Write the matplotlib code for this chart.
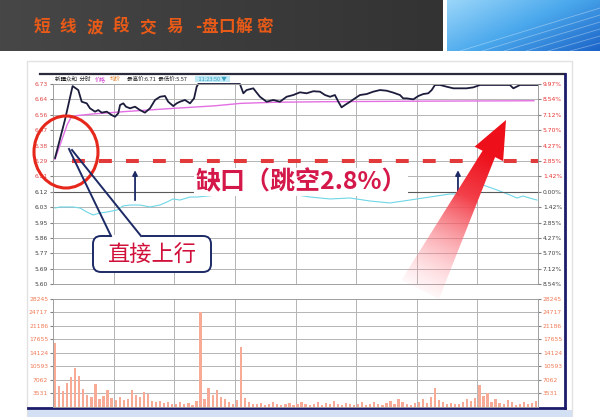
import numpy as np
import matplotlib
matplotlib.use('Agg')
import matplotlib.pyplot as plt
from matplotlib.patches import Ellipse, FancyBboxPatch, Polygon, Rectangle
from matplotlib.colors import LinearSegmentedColormap

plt.rcParams['font.family'] = ['Noto Sans CJK SC', 'DejaVu Sans']

# ---- 数据 ----
title = '短线波段交易-盘口解密'
gap_label = '缺口（跳空2.8%）'
callout_label = '直接上行'
gap_pct = 2.8

pct_ticks = [9.97, 8.54, 7.12, 5.70, 4.27, 2.85, 1.42, 0.00,
             -1.42, -2.85, -4.27, -5.70, -7.12, -8.54]
price_labels = ['6.73', '6.64', '6.56', '6.47', '6.38', '6.29', '6.21', '6.12',
                '6.03', '5.95', '5.86', '5.77', '5.69', '5.60']
pct_labels = ['9.97%', '8.54%', '7.12%', '5.70%', '4.27%', '2.85%', '1.42%', '0.00%',
              '1.42%', '2.85%', '4.27%', '5.70%', '7.12%', '8.54%']
vol_ticks = [3531, 7062, 10593, 14124, 17655, 21186, 24717, 28245]

# 次日分时（涨幅%）
time_today = [1, 5.9, 9.7, 12.5, 14.2, 16.7, 18.3, 20.8, 22.4, 24.1, 26.6, 29.0, 30.7, 32.3,
              33.2, 34.8, 36.1, 38.1, 40.6, 43.0, 45.5, 48.0, 50.5, 53.0, 55.4, 57.0, 59.5,
              61.2, 62.8, 65.3, 67.8, 69.8, 71.1, 71.9, 92.5, 94.2, 95.8, 99.1, 102.4, 105.7,
              109.0, 112.3, 115.6, 118.9, 122.2, 125.5, 128.8, 132.1, 134.6, 137.1, 139.5,
              141.2, 142.8, 144.5, 147.0, 149.4, 151.9, 155.2, 158.5, 161.8, 165.1, 168.4,
              171.7, 173.3, 175.0, 178.3, 180.8, 183.2, 185.7, 187.4, 189.0, 191.5, 194.8,
              198.1, 201.4, 204.7, 208.0, 211.3, 226.1, 227.8, 229.4, 231.1, 240]
price_today = [3.12, 6.64, 9.78, 9.41, 8.33, 8.18, 7.72, 7.41, 7.56, 7.32, 7.41, 7.10, 6.94, 7.26,
               8.03, 8.18, 7.87, 7.72, 7.87, 7.56, 7.32, 7.72, 8.49, 8.79, 8.86, 8.33, 7.93,
               8.18, 8.33, 8.49, 8.18, 8.64, 9.72, 9.97, 9.97, 9.11, 9.41, 9.57, 8.79, 8.33,
               8.49, 8.33, 8.79, 8.95, 9.20, 9.11, 9.30, 9.26, 8.95, 8.79, 8.95,
               8.33, 7.81, 8.03, 8.33, 8.64, 8.95, 9.04, 9.26, 9.41, 9.35, 9.17,
               8.95, 8.64, 8.64, 8.55, 8.86, 9.04, 9.11, 9.41, 9.88, 9.88, 9.72,
               9.57, 9.57, 9.57, 9.66, 9.88, 9.88, 9.57, 9.72, 9.88, 9.88]
avg_time = [1, 4, 7, 9, 12, 20, 35, 60, 80, 93, 110, 134, 180, 238]
avg_today = [3.0, 4.6, 6.2, 6.9, 7.05, 7.2, 7.41, 7.72, 7.95, 8.18, 8.28, 8.33, 8.38, 8.42]

# 前一日分时（涨幅%）
time_prev = [1, 3.5, 6.9, 9.9, 13.4, 16.8, 19.8, 23.3, 26.7, 31.7, 34.6, 38.1, 43.0, 48.0,
             52.9, 56.4, 59.4, 62.8, 67.8, 71.3, 76.2, 81.1, 91.0, 100.9, 110.8, 120.7,
             127.2, 137.1, 147.0, 156.9, 166.7, 176.6, 186.5, 196.4, 201.4, 207.8, 212.8,
             219.7, 226.1, 229.6, 232.6, 237.5, 239.5]
price_prev = [-1.51, -1.41, -1.41, -1.41, -1.51, -1.88, -2.15, -1.97, -1.88, -1.69, -1.32,
              -1.23, -1.23, -1.41, -1.23, -0.95, -0.67, -0.77, -0.49, -0.49, -0.40, -0.30,
              -0.12, -0.03, -0.12, -0.30, -0.49, -0.67, -0.58, -0.86, -1.04, -0.77, -0.49,
              -0.21, -0.21, 0.34, 0.62, 0.16, -0.30, -0.58, -0.40, -0.67, -0.77]

# 成交量（每2分钟）
volume = [16700, 5600, 4300, 6200, 7800, 10200, 8200, 4600, 3100, 2600,
          6000, 2100, 2900, 4500, 2300, 1800, 2500, 1900, 2200, 4400,
          3200, 2600, 3900, 3500, 1600, 1300, 1500, 1100, 1400, 900,
          800, 1200, 700, 1000, 600, 1500, 24800, 2100, 5000, 3100,
          4500, 2600, 2000, 1200, 900, 1800, 15700, 2400, 1300, 800,
          700, 1100, 600, 900, 1300, 700, 500, 800, 1000, 600,
          900, 1400, 700, 500, 800, 1200, 600, 1000, 700, 1600,
          900, 600, 1100, 800, 500, 700, 1300, 600, 900, 1200,
          700, 500, 1000, 1500, 800, 2200, 1200, 900, 600, 1100,
          1400, 2000, 1000, 2600, 5000, 1900, 1200, 800, 1000, 700,
          900, 1300, 2000, 1600, 2400, 5700, 3000, 3700, 1400, 2100,
          1000, 700, 1800, 1200, 600, 900, 1300, 700, 1100, 1500]

W, H = 600, 417
fig = plt.figure(figsize=(W / 100, H / 100), dpi=100)
fig.patch.set_facecolor('white')


def px_axes(x0, y0, x1, y1, z):
    return fig.add_axes([x0 / W, 1 - y1 / H, (x1 - x0) / W, (y1 - y0) / H], zorder=z)


# ---- 背景层 ----
bg = px_axes(0, 0, W, H, 0)
grad = np.linspace(0, 1, 200)[None, :]
bg.imshow(grad, extent=(0, 443, 51, 0), aspect='auto',
          cmap=LinearSegmentedColormap.from_list('slab', ['#474747', '#3c3c3c', '#333333']))
xx, yy = np.meshgrid(np.linspace(0, 1, 80), np.linspace(0, 1, 30))
bg.imshow(0.6 * xx + 0.4 * yy, extent=(447, 600, 51, 0), aspect='auto',
          cmap=LinearSegmentedColormap.from_list('sky', ['#9ad6fa', '#4aa8ec', '#1c64c8']))
for k in range(6):
    bg.plot([460 + k * 22, 600], [51, 8 + k * 7], color='white', lw=0.6, alpha=0.35)
bg.add_patch(Rectangle((27, 61), 545, 355, fill=False, edgecolor='#e2e2e2', lw=1))
bg.add_patch(Rectangle((28, 410), 544, 7, facecolor='#d3e0f4', edgecolor='none'))
bg.plot([40, 565], [74, 74], color='#2a2a3a', lw=1.6)
bg.plot([565, 565], [74, 408], color='#1c1c6a', lw=2)
bg.plot([28, 565], [408, 408], color='#1c1c6a', lw=2)
bg.set_xlim(0, W)
bg.set_ylim(H, 0)
bg.axis('off')

# 标题（前六字疏排）
for ch, x in zip(title, [42, 68, 95, 121, 148, 175, 198, 210, 227, 244, 265]):
    bg.text(x, 27, ch, color='#e85a18', fontsize=12, fontweight='bold',
            ha='center', va='center')

# ---- 价格区 ----
ax = px_axes(53, 84, 538, 284, 1)
ax.plot(time_prev, price_prev, color='#6fd6e6', lw=0.8)
ax.plot(avg_time, avg_today, color='#e36fe3', lw=1.0)
ax.plot(time_today, price_today, color='#1c1c3c', lw=1.3, clip_on=False)
ax.axhline(gap_pct, xmin=0.04, xmax=1, color='#e23a3a', lw=2.9, dashes=(3.2, 3.5), zorder=4)
ax.set_xlim(0, 240)
ax.set_ylim(pct_ticks[-1], pct_ticks[0])
ax.set_xticks(range(0, 241, 30))
ax.set_yticks(pct_ticks)
ax.grid(True, color='#b4b4b4', lw=0.7)
ax.set_axisbelow(True)
ax.set_xticklabels([])
ax.set_yticklabels(price_labels, fontsize=4.3, family='DejaVu Sans')
ax.tick_params(axis='y', length=2, pad=1.5, colors='#808080')
ax.tick_params(axis='x', length=0)
for lab, v in zip(ax.get_yticklabels(), pct_ticks):
    lab.set_color('#e04848' if v > 0 else '#404040')
ax.axhline(0, color='#5a5a5a', lw=0.8)
for s in ax.spines.values():
    s.set_color('#a0a0a0')
    s.set_linewidth(0.7)
ax2 = ax.twinx()
ax2.set_ylim(ax.get_ylim())
ax2.set_yticks(pct_ticks)
ax2.set_yticklabels(pct_labels, fontsize=4.3, family='DejaVu Sans')
ax2.tick_params(axis='y', length=2, pad=1.5, colors='#808080')
for lab, v in zip(ax2.get_yticklabels(), pct_ticks):
    lab.set_color('#e83030' if v > 0 else '#404040')
for s in ax2.spines.values():
    s.set_visible(False)

# 上涨箭头
for t0, y0 in [(40.6, -1.04), (200.4, -0.58)]:
    ax.annotate('', xy=(t0, gap_pct - 0.55), xytext=(t0, y0),
                arrowprops=dict(arrowstyle='-|>', color='#1c2a66', lw=1.3, mutation_scale=7))

# ---- 成交量区 ----
axv = px_axes(53, 299, 538, 407, 1)
bar_t = np.arange(len(volume)) * 2 + 1
axv.bar(bar_t, volume, width=1.1, color='#f7aa96', edgecolor='none')
axv.set_xlim(0, 240)
axv.set_ylim(0, vol_ticks[-1])
axv.set_xticks(range(0, 241, 30))
axv.set_yticks(vol_ticks)
axv.set_xticklabels([])
axv.grid(True, color='#b4b4b4', lw=0.7)
axv.set_axisbelow(True)
axv.tick_params(axis='x', length=0)
axv.tick_params(axis='y', length=2, pad=1.5, colors='#808080', labelsize=4.3,
                labelcolor='#f07a55', labelright=True, right=True)
for lab in axv.get_yticklabels():
    lab.set_family('DejaVu Sans')
for s in axv.spines.values():
    s.set_color('#a0a0a0')
    s.set_linewidth(0.7)

# ---- 前景标注层 ----
fg = px_axes(0, 0, W, H, 5)
fg.set_xlim(0, W)
fg.set_ylim(H, 0)
fg.axis('off')

# 顶部信息栏
fg.text(55, 79, '新疆众和  分时', fontsize=4, color='#202020', va='center')
fg.text(95, 79, '价格', fontsize=4, color='#d040d0', va='center')
fg.text(110, 79, '均价', fontsize=4, color='#e07a20', va='center')
fg.text(127, 79, '最高价:6.71  最低价:5.57', fontsize=4, color='#202020', va='center')
fg.text(196, 79, '  11:23:50 ▼  ', fontsize=4, color='#3aa0c0', va='center',
        bbox=dict(boxstyle='square,pad=0.15', facecolor='#bfeaf6', edgecolor='none'))

# 缺口文字
fg.text(301, 182, gap_label, fontsize=18, fontweight='bold', color='#d4184a',
        ha='center', va='center',
        bbox=dict(boxstyle='square,pad=0.05', facecolor='white', edgecolor='none'))

# 红圈
fg.add_patch(Ellipse((66, 152), 64, 72, fill=False, edgecolor='#e6281c', lw=2.2))

# 标注框
navy = '#1c2a66'
fg.add_patch(FancyBboxPatch((93, 236), 118, 36, boxstyle='round,pad=0,rounding_size=8',
                            facecolor='white', edgecolor=navy, lw=1.4))
fg.plot([111, 141], [236, 236], color='white', lw=2.2, solid_capstyle='butt')
fg.plot([69, 111], [149, 236], color=navy, lw=1.4)
fg.plot([72, 141], [150, 236], color=navy, lw=1.4)
fg.text(152, 255, callout_label, fontsize=16, color='#d0103a', ha='center', va='center')

# 红色大箭头（渐变）
tip = np.array([506.0, 120.0])
d = np.array([-85.0, 168.0])
d = d / np.hypot(*d)
n = np.array([d[1], -d[0]])
L, head_len, head_w, sh_w0, sh_w1 = 190, 38, 16, 7, 21
B = tip + head_len * d
C = tip + L * d
pts = [tip, B + head_w * n, B + sh_w0 * n, C + sh_w1 * n, C - sh_w1 * n,
       B - sh_w0 * n, B - head_w * n]
poly = Polygon(pts, closed=True, facecolor='none', edgecolor='none')
fg.add_patch(poly)
gx, gy = np.meshgrid(np.arange(380, 530), np.arange(110, 320))
s = ((gx - tip[0]) * d[0] + (gy - tip[1]) * d[1]) / L
a = np.clip((1.05 - s) / 0.6, 0.04, 1.0)
mix = np.clip((s - 0.2) / 0.8, 0, 1)
rgba = np.zeros(gx.shape + (4,))
rgba[..., 0] = 0.93 + 0.07 * mix
rgba[..., 1] = 0.06 + 0.6 * mix
rgba[..., 2] = 0.10 + 0.6 * mix
rgba[..., 3] = a
im = fg.imshow(rgba, extent=(380, 530, 320, 110), aspect='auto', zorder=6)
im.set_clip_path(poly)
fg.set_xlim(0, W)
fg.set_ylim(H, 0)

fig.savefig('out.png', dpi=100)
